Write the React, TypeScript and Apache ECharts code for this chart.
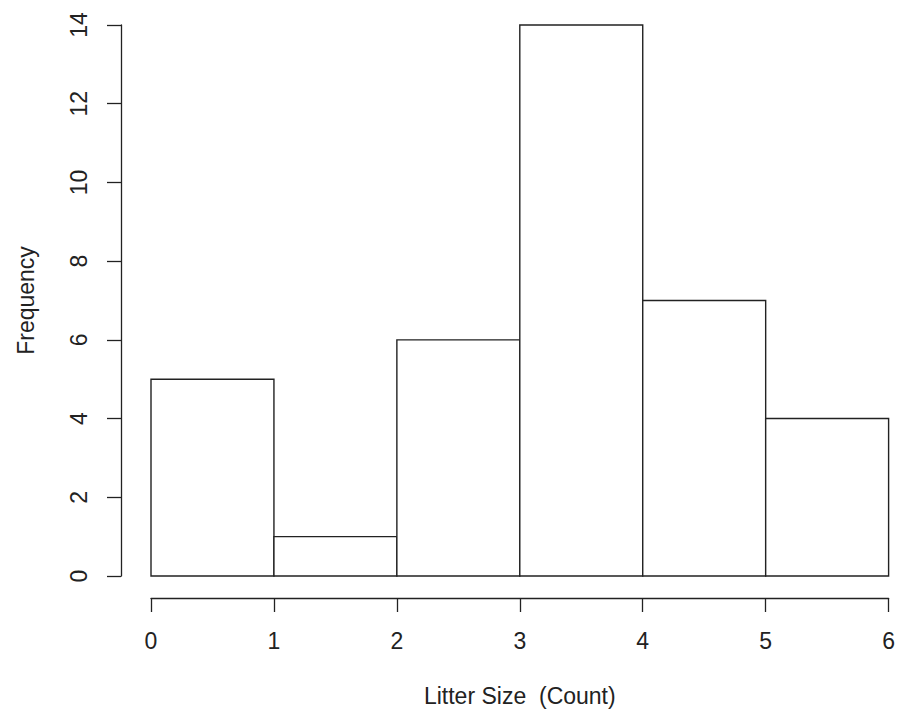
import React, { useEffect, useRef } from "react";
import * as echarts from "echarts";

const binStarts = [0, 1, 2, 3, 4, 5];
const binEnds = [1, 2, 3, 4, 5, 6];
const frequencies = [5, 1, 6, 14, 7, 4];
const xTicks = [0, 1, 2, 3, 4, 5, 6];
const yTicks = [0, 2, 4, 6, 8, 10, 12, 14];
const xTitle = "Litter Size  (Count)";
const yTitle = "Frequency";

export default function App() {
  const ref = useRef<HTMLDivElement>(null);
  useEffect(() => {
    if (!ref.current) return;
    const chart = echarts.init(ref.current, null, { renderer: "svg" });
    const font = "'Liberation Sans', Arial, sans-serif";
    const ink = "#222";
    const data = binStarts.map((s, i) => [s, binEnds[i], frequencies[i]]);
    chart.setOption({
      animation: false,
      backgroundColor: "#ffffff",
      grid: { left: 151, right: 9, top: 25, bottom: 138 },
      xAxis: {
        type: "value",
        min: xTicks[0],
        max: xTicks[xTicks.length - 1],
        interval: 1,
        offset: 22,
        splitLine: { show: false },
        axisLine: { show: true, onZero: false, lineStyle: { color: ink, width: 1.3 } },
        axisTick: { show: true, length: 14, lineStyle: { color: ink, width: 1.3 } },
        axisLabel: { color: ink, fontFamily: font, fontSize: 23, margin: 31 },
        name: xTitle,
        nameLocation: "middle",
        nameGap: 86,
        nameTextStyle: { color: ink, fontFamily: font, fontSize: 23 },
      },
      yAxis: {
        type: "value",
        min: yTicks[0],
        max: yTicks[yTicks.length - 1],
        interval: 2,
        offset: 30,
        splitLine: { show: false },
        axisLine: { show: true, onZero: false, lineStyle: { color: ink, width: 1.3 } },
        axisTick: { show: true, length: 14, lineStyle: { color: ink, width: 1.3 } },
        axisLabel: { color: ink, fontFamily: font, fontSize: 23, margin: 31, rotate: 90 },
        name: yTitle,
        nameLocation: "middle",
        nameGap: 84,
        nameTextStyle: { color: ink, fontFamily: font, fontSize: 23 },
      },
      series: [
        {
          type: "custom",
          data,
          encode: { x: [0, 1], y: 2 },
          renderItem: (params: any, api: any) => {
            const p0 = api.coord([api.value(0), 0]);
            const p1 = api.coord([api.value(1), api.value(2)]);
            return {
              type: "rect",
              shape: { x: p0[0], y: p1[1], width: p1[0] - p0[0], height: p0[1] - p1[1] },
              style: { fill: "#ffffff", stroke: ink, lineWidth: 1.4 },
            };
          },
        },
      ],
    });
    return () => chart.dispose();
  }, []);
  return (
    <div
      ref={ref}
      style={{ position: "fixed", left: 0, top: 0, width: 898, height: 714 }}
    />
  );
}
